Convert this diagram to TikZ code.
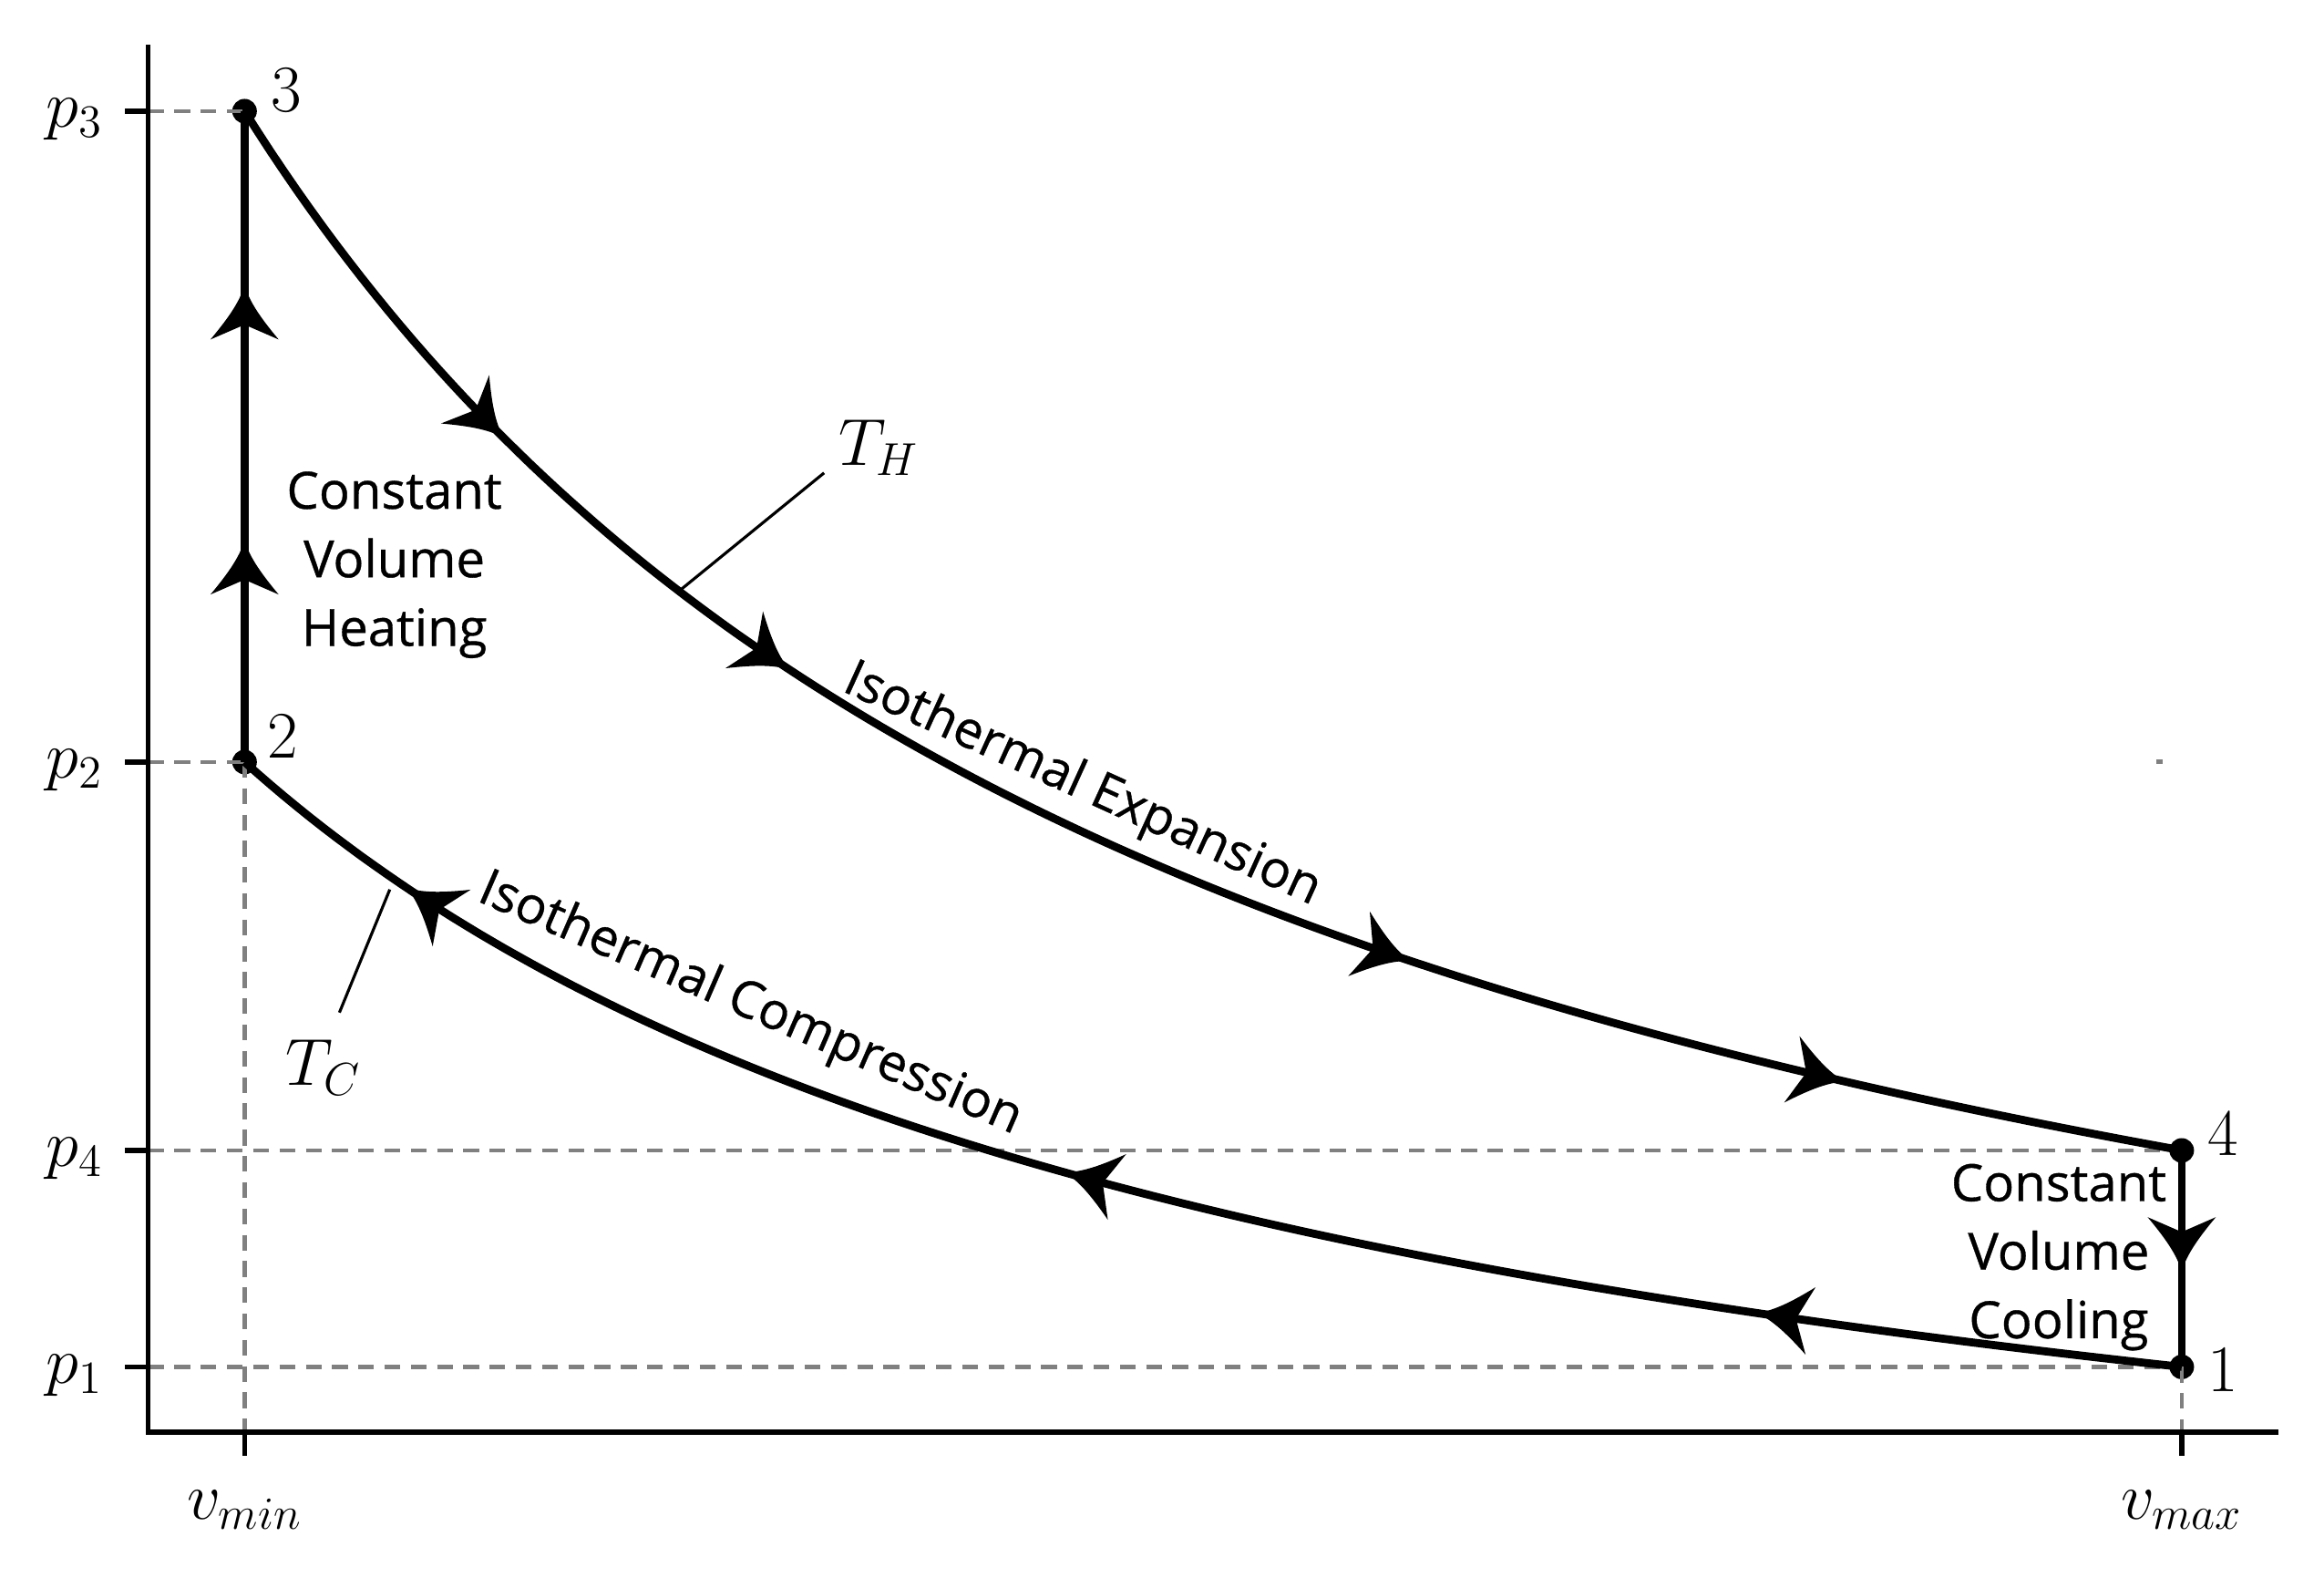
\documentclass[tikz,border=0pt]{standalone}
\usepackage{fontspec}
\newfontfamily\osans{Open Sans}[FakeBold=0.6]
\definecolor{guidegray}{RGB}{128,128,128}
\begin{document}
\begin{tikzpicture}[x=0.0162628cm,y=-0.0162628cm]
\tikzset{
  curve/.style={line width=2.5pt, black},
  axis/.style={line width=1.5pt, black},
  guide/.style={line width=1.3pt, color=guidegray, dash pattern=on 4.9pt off 3.3pt},
  leader/.style={line width=0.9pt, black},
  lab/.style={font=\osans\fontsize{16}{21.4}\selectfont, align=center, inner sep=0pt},
  mlab/.style={font=\fontsize{21}{25}\selectfont, inner sep=0pt},
  dotpt/.style={circle, fill=black, inner sep=0pt, minimum size=0.27cm},
  barb/.pic={\fill (0,0) .. controls (-12,-3) and (-25,-13) .. (-37,-23) -- (-27,0) -- (-37,23) .. controls (-25,13) and (-12,3) .. (0,0) -- cycle;}
}
\fill[white] (0,0) rectangle (1568,1064.4);
\useasboundingbox (0,0) rectangle (1568,1064.4);

% axis coordinates
\coordinate (O) at (100,966);
\coordinate (Ytop) at (100,30);
\coordinate (Xend) at (1537,966);
\coordinate (Y3) at (100,75);
\coordinate (Y2) at (100,514);
\coordinate (Y4) at (100,776);
\coordinate (Y1) at (100,922);
\coordinate (Xmin) at (165,966);
\coordinate (Xmax) at (1472,966);

% state points
\node[dotpt] (P3) at (165,75) {};
\node[dotpt] (P2) at (165,514) {};
\node[dotpt] (P4) at (1472,776) {};
\node[dotpt] (P1) at (1472,922) {};

% guides
\draw[guide] (Y3) -- (P3.center);
\draw[guide] (Y2) -- (P2.center);
\draw[guide] (Y4) -- (P4.center);
\draw[guide] (Y1) -- (P1.center);
\draw[guide] (P2.center) -- (Xmin);
\draw[guide] (P1.center) -- (Xmax);
\fill[guidegray] (1455,512) rectangle (1459,515);

% axes
\draw[axis] (Ytop) -- (O) -- (Xend);
\draw[axis] (Y3) -- ++(-16,0);
\draw[axis] (Y2) -- ++(-16,0);
\draw[axis] (Y4) -- ++(-16,0);
\draw[axis] (Y1) -- ++(-16,0);
\draw[axis] (Xmin) -- ++(0,16);
\draw[axis] (Xmax) -- ++(0,16);

% tick labels
\node[mlab, anchor=base east] at (70,86) {$p_3$};
\node[mlab, anchor=base east] at (70,525) {$p_2$};
\node[mlab, anchor=base east] at (70,787) {$p_4$};
\node[mlab, anchor=base east] at (70,933) {$p_1$};
\node[mlab, anchor=base] at (165,1025) {$v_{min}$};
\node[mlab, anchor=base] at (1472,1025) {$v_{max}$};

% process lines
\draw[curve] (P2.center) -- (P3.center);
\draw[curve] (P4.center) -- (P1.center);
\draw[curve] plot[domain=165:1472, samples=150] (\x, {1132 - 701.848/((\x+499)/1000)});
\draw[curve] plot[domain=165:1472, samples=150] (\x, {1139.7 - 436.363/((\x+532.4)/1000)});

% arrows
\pic[rotate=90] at (165,192) {barb};
\pic[rotate=90] at (165,364) {barb};
\pic[rotate=-90] at (1472,858) {barb};
\pic[rotate=-44.92] at (340,295.5) {barb};
\pic[rotate=-33.38] at (533,451.9) {barb};
\pic[rotate=-18.43] at (952,648.3) {barb};
\pic[rotate=-12.99] at (1245,729.6) {barb};
\pic[rotate=171.58] at (1185,885.6) {barb};
\pic[rotate=164.41] at (718,790.7) {barb};
\pic[rotate=146.14] at (274,598.6) {barb};

% point labels
\node[mlab] (L3) at (193,61) {$3$};
\node[mlab] (L2) at (191,497) {$2$};
\node[mlab] (L4) at (1500,765) {$4$};
\node[mlab] (L1) at (1500,924) {$1$};

% temperature labels
\node[mlab] (TH) at (593,302) {$T_H$};
\node[mlab] (TC) at (218,720) {$T_C$};
\coordinate (THa) at (556,319);
\coordinate (THb) at (459,398);
\coordinate (TCa) at (229,683);
\coordinate (TCb) at (263,600);
\draw[leader] (THa) -- (THb);
\draw[leader] (TCa) -- (TCb);

% process labels
\node[lab] (heat) at (266,381) {Constant\\Volume\\Heating};
\node[lab] (cool) at (1389,848) {Constant\\Volume\\Cooling};
\node[lab, rotate=-24.5] (exp) at (730,530) {Isothermal Expansion};
\node[lab, rotate=-23.5] (comp) at (506,678) {Isothermal Compression};
\end{tikzpicture}
\end{document}
